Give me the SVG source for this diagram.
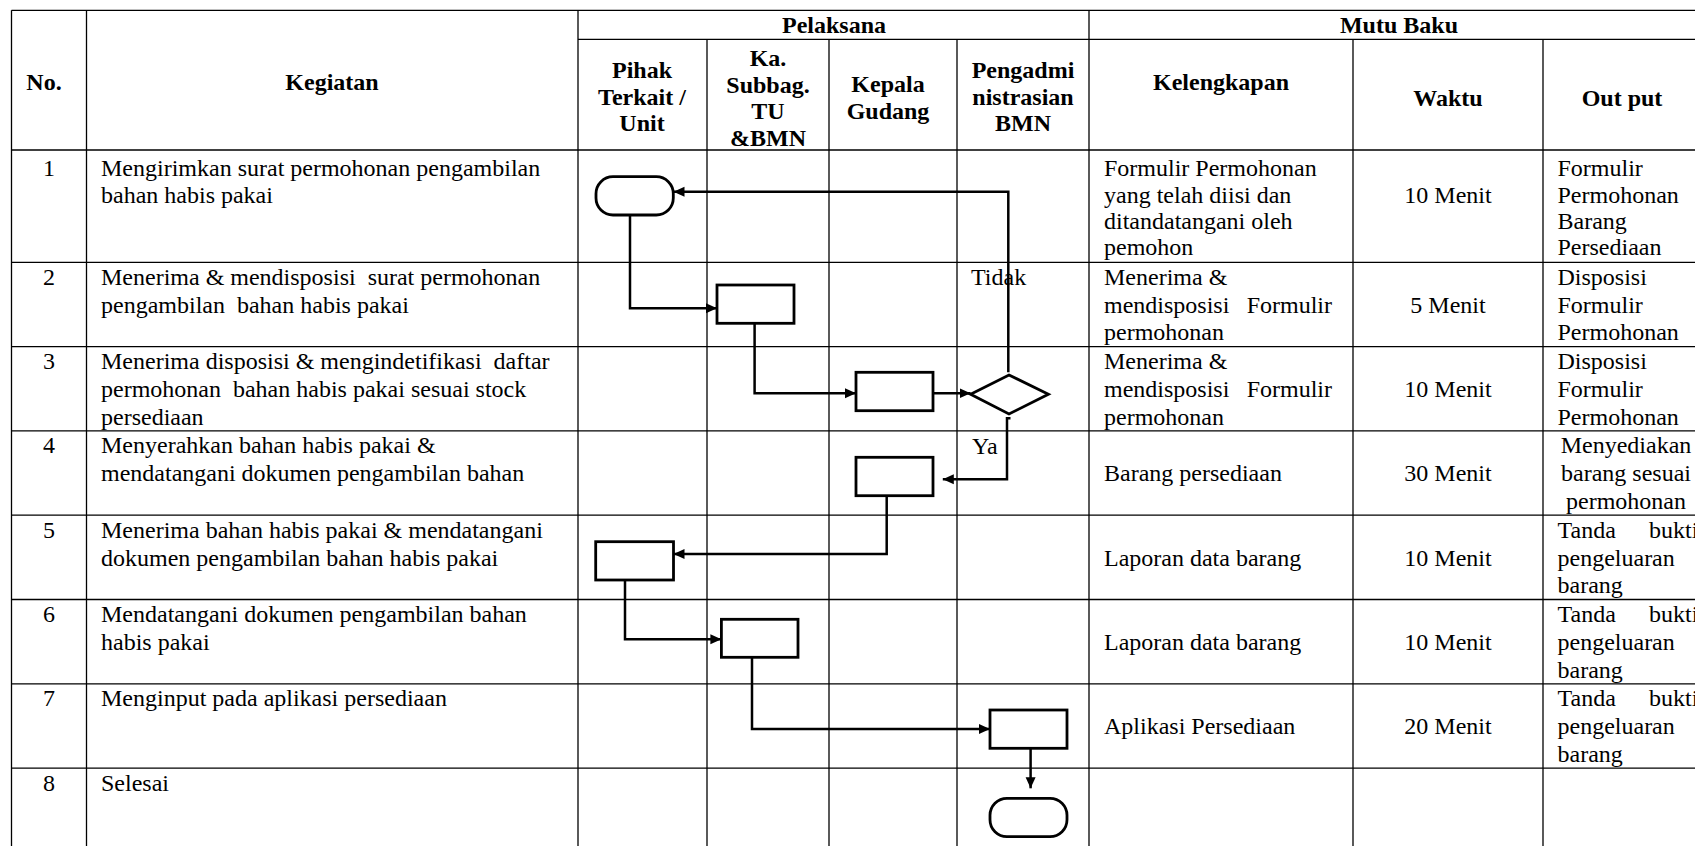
<svg xmlns="http://www.w3.org/2000/svg" width="1695" height="846" viewBox="0 0 1695 846" xml:space="preserve">
<style>
text { font-family: "Liberation Serif", "Times New Roman", serif; font-size: 24px; fill: #000; white-space: pre; }
.b { font-weight: bold; }
.c { text-anchor: middle; }
.e { text-anchor: end; }
.grid line { stroke: #000; stroke-width: 1.3; }
.shape { fill: #fff; stroke: #000; stroke-width: 2.8; }
.conn path { fill: none; stroke: #000; stroke-width: 2.5; }
</style>
<defs>
<marker id="arr" markerUnits="userSpaceOnUse" markerWidth="12" markerHeight="12" viewBox="0 0 12 12" refX="11" refY="6" orient="auto">
<path d="M0,1 L11,6 L0,11 Z" fill="#000"/>
</marker>
</defs>
<rect x="0" y="0" width="1695" height="846" fill="#fff"/>
<g id="table" class="grid">
<line x1="11.5" y1="10.3" x2="11.5" y2="846"/>
<line x1="86.5" y1="10.3" x2="86.5" y2="846"/>
<line x1="578" y1="10.3" x2="578" y2="846"/>
<line x1="707" y1="39.3" x2="707" y2="846"/>
<line x1="829" y1="39.3" x2="829" y2="846"/>
<line x1="957" y1="39.3" x2="957" y2="846"/>
<line x1="1089" y1="10.3" x2="1089" y2="846"/>
<line x1="1353" y1="39.3" x2="1353" y2="846"/>
<line x1="1543" y1="39.3" x2="1543" y2="846"/>
<line x1="11.5" y1="10.3" x2="1695" y2="10.3"/>
<line x1="578" y1="39.3" x2="1695" y2="39.3"/>
<line x1="11.5" y1="150" x2="1695" y2="150"/>
<line x1="11.5" y1="262.3" x2="1695" y2="262.3"/>
<line x1="11.5" y1="346.6" x2="1695" y2="346.6"/>
<line x1="11.5" y1="430.9" x2="1695" y2="430.9"/>
<line x1="11.5" y1="515.2" x2="1695" y2="515.2"/>
<line x1="11.5" y1="599.5" x2="1695" y2="599.5"/>
<line x1="11.5" y1="683.8" x2="1695" y2="683.8"/>
<line x1="11.5" y1="768.1" x2="1695" y2="768.1"/>
</g>
<g id="header">
<text class="b c" x="44" y="90">No.</text>
<text class="b c" x="332" y="90">Kegiatan</text>
<text class="b c" x="834" y="33">Pelaksana</text>
<text class="b c" x="1399" y="33">Mutu Baku</text>
<text class="b c" x="642" y="78">Pihak</text>
<text class="b c" x="642" y="104.5">Terkait /</text>
<text class="b c" x="642" y="131">Unit</text>
<text class="b c" x="768" y="66">Ka.</text>
<text class="b c" x="768" y="92.5">Subbag.</text>
<text class="b c" x="768" y="119">TU</text>
<text class="b c" x="768" y="145.5">&amp;BMN</text>
<text class="b c" x="888" y="92">Kepala</text>
<text class="b c" x="888" y="118.5">Gudang</text>
<text class="b c" x="1023" y="78">Pengadmi</text>
<text class="b c" x="1023" y="104.5">nistrasian</text>
<text class="b c" x="1023" y="131">BMN</text>
<text class="b c" x="1221" y="90">Kelengkapan</text>
<text class="b c" x="1448" y="105.5">Waktu</text>
<text class="b c" x="1622" y="105.5">Out put</text>
</g>
<g id="row1">
<text class="c" x="49" y="176">1</text>
<text x="101" y="176">Mengirimkan surat permohonan pengambilan</text>
<text x="101" y="202.5">bahan habis pakai</text>
<text x="1104" y="176">Formulir Permohonan</text>
<text x="1104" y="202.5">yang telah diisi dan</text>
<text x="1104" y="229">ditandatangani oleh</text>
<text x="1104" y="255">pemohon</text>
<text class="c" x="1448" y="202.5">10 Menit</text>
<text x="1557.5" y="176">Formulir</text>
<text x="1557.5" y="202.5">Permohonan</text>
<text x="1557.5" y="229">Barang</text>
<text x="1557.5" y="255">Persediaan</text>
</g>
<g id="row2">
<text class="c" x="49" y="284.8">2</text>
<text x="101" y="284.8">Menerima &amp; mendisposisi  surat permohonan</text>
<text x="101" y="312.6">pengambilan  bahan habis pakai</text>
<text x="1104" y="284.8">Menerima &amp;</text>
<text x="1104" y="312.6">mendisposisi</text>
<text class="e" x="1332" y="312.6">Formulir</text>
<text x="1104" y="340.4">permohonan</text>
<text class="c" x="1448" y="312.6">5 Menit</text>
<text x="1557.5" y="284.8">Disposisi</text>
<text x="1557.5" y="312.6">Formulir</text>
<text x="1557.5" y="340.4">Permohonan</text>
</g>
<g id="row3">
<text class="c" x="49" y="369.1">3</text>
<text x="101" y="369.1">Menerima disposisi &amp; mengindetifikasi  daftar</text>
<text x="101" y="396.9">permohonan  bahan habis pakai sesuai stock</text>
<text x="101" y="424.7">persediaan</text>
<text x="1104" y="369.1">Menerima &amp;</text>
<text x="1104" y="396.9">mendisposisi</text>
<text class="e" x="1332" y="396.9">Formulir</text>
<text x="1104" y="424.7">permohonan</text>
<text class="c" x="1448" y="396.9">10 Menit</text>
<text x="1557.5" y="369.1">Disposisi</text>
<text x="1557.5" y="396.9">Formulir</text>
<text x="1557.5" y="424.7">Permohonan</text>
</g>
<g id="row4">
<text class="c" x="49" y="453.4">4</text>
<text x="101" y="453.4">Menyerahkan bahan habis pakai &amp;</text>
<text x="101" y="481.2">mendatangani dokumen pengambilan bahan</text>
<text x="1104" y="481.2">Barang persediaan</text>
<text class="c" x="1448" y="481.2">30 Menit</text>
<text class="c" x="1626" y="453.4">Menyediakan</text>
<text class="c" x="1626" y="481.2">barang sesuai</text>
<text class="c" x="1626" y="509">permohonan</text>
</g>
<g id="row5">
<text class="c" x="49" y="537.7">5</text>
<text x="101" y="537.7">Menerima bahan habis pakai &amp; mendatangani</text>
<text x="101" y="565.5">dokumen pengambilan bahan habis pakai</text>
<text x="1104" y="565.5">Laporan data barang</text>
<text class="c" x="1448" y="565.5">10 Menit</text>
<text x="1557.5" y="537.7">Tanda</text>
<text x="1649" y="537.7">bukti</text>
<text x="1557.5" y="565.5">pengeluaran</text>
<text x="1557.5" y="593.3">barang</text>
</g>
<g id="row6">
<text class="c" x="49" y="622">6</text>
<text x="101" y="622">Mendatangani dokumen pengambilan bahan</text>
<text x="101" y="649.8">habis pakai</text>
<text x="1104" y="649.8">Laporan data barang</text>
<text class="c" x="1448" y="649.8">10 Menit</text>
<text x="1557.5" y="622">Tanda</text>
<text x="1649" y="622">bukti</text>
<text x="1557.5" y="649.8">pengeluaran</text>
<text x="1557.5" y="677.6">barang</text>
</g>
<g id="row7">
<text class="c" x="49" y="706.3">7</text>
<text x="101" y="706.3">Menginput pada aplikasi persediaan</text>
<text x="1104" y="734.1">Aplikasi Persediaan</text>
<text class="c" x="1448" y="734.1">20 Menit</text>
<text x="1557.5" y="706.3">Tanda</text>
<text x="1649" y="706.3">bukti</text>
<text x="1557.5" y="734.1">pengeluaran</text>
<text x="1557.5" y="761.9">barang</text>
</g>
<g id="row8">
<text class="c" x="49" y="790.6">8</text>
<text x="101" y="790.6">Selesai</text>
</g>
<g id="connectors" class="conn">
<path d="M630,215 V308.3 H717" marker-end="url(#arr)"/>
<path d="M754.6,323.3 V393.3 H856" marker-end="url(#arr)"/>
<path d="M933,393.3 H970.6" marker-end="url(#arr)"/>
<path d="M1008.3,372.3 V191.7 H673.5" marker-end="url(#arr)"/>
<path d="M1010.5,418.3 H1007 V479.3 H942.8" marker-end="url(#arr)"/>
<path d="M886.7,495.7 V554 H673.5" marker-end="url(#arr)"/>
<path d="M625,580 V639.3 H721.4" marker-end="url(#arr)"/>
<path d="M752,657.3 V729 H990" marker-end="url(#arr)"/>
<path d="M1030.6,748.3 V788.3" marker-end="url(#arr)"/>
</g>
<g id="start"><rect class="shape" x="596" y="176.7" width="77.3" height="38.3" rx="17" ry="17"/></g>
<g id="step2"><rect class="shape" x="717" y="285" width="77" height="38.3"/></g>
<g id="step3"><rect class="shape" x="856" y="372.3" width="77" height="38.4"/></g>
<g id="decision"><path class="shape" d="M1009,375 L1048.4,394.3 L1009,414 L970.6,394.3 Z"/></g>
<g id="step4"><rect class="shape" x="856" y="457.3" width="77" height="38.4"/></g>
<g id="step5"><rect class="shape" x="595.7" y="541.7" width="77.8" height="38.3"/></g>
<g id="step6"><rect class="shape" x="721.4" y="619.3" width="76.6" height="38"/></g>
<g id="step7"><rect class="shape" x="990" y="710" width="77" height="38.3"/></g>
<g id="end"><rect class="shape" x="990" y="798.3" width="77" height="38.4" rx="17" ry="17"/></g>
<g id="labels">
<text x="971" y="285">Tidak</text>
<text x="972" y="454">Ya</text>
</g>
</svg>
